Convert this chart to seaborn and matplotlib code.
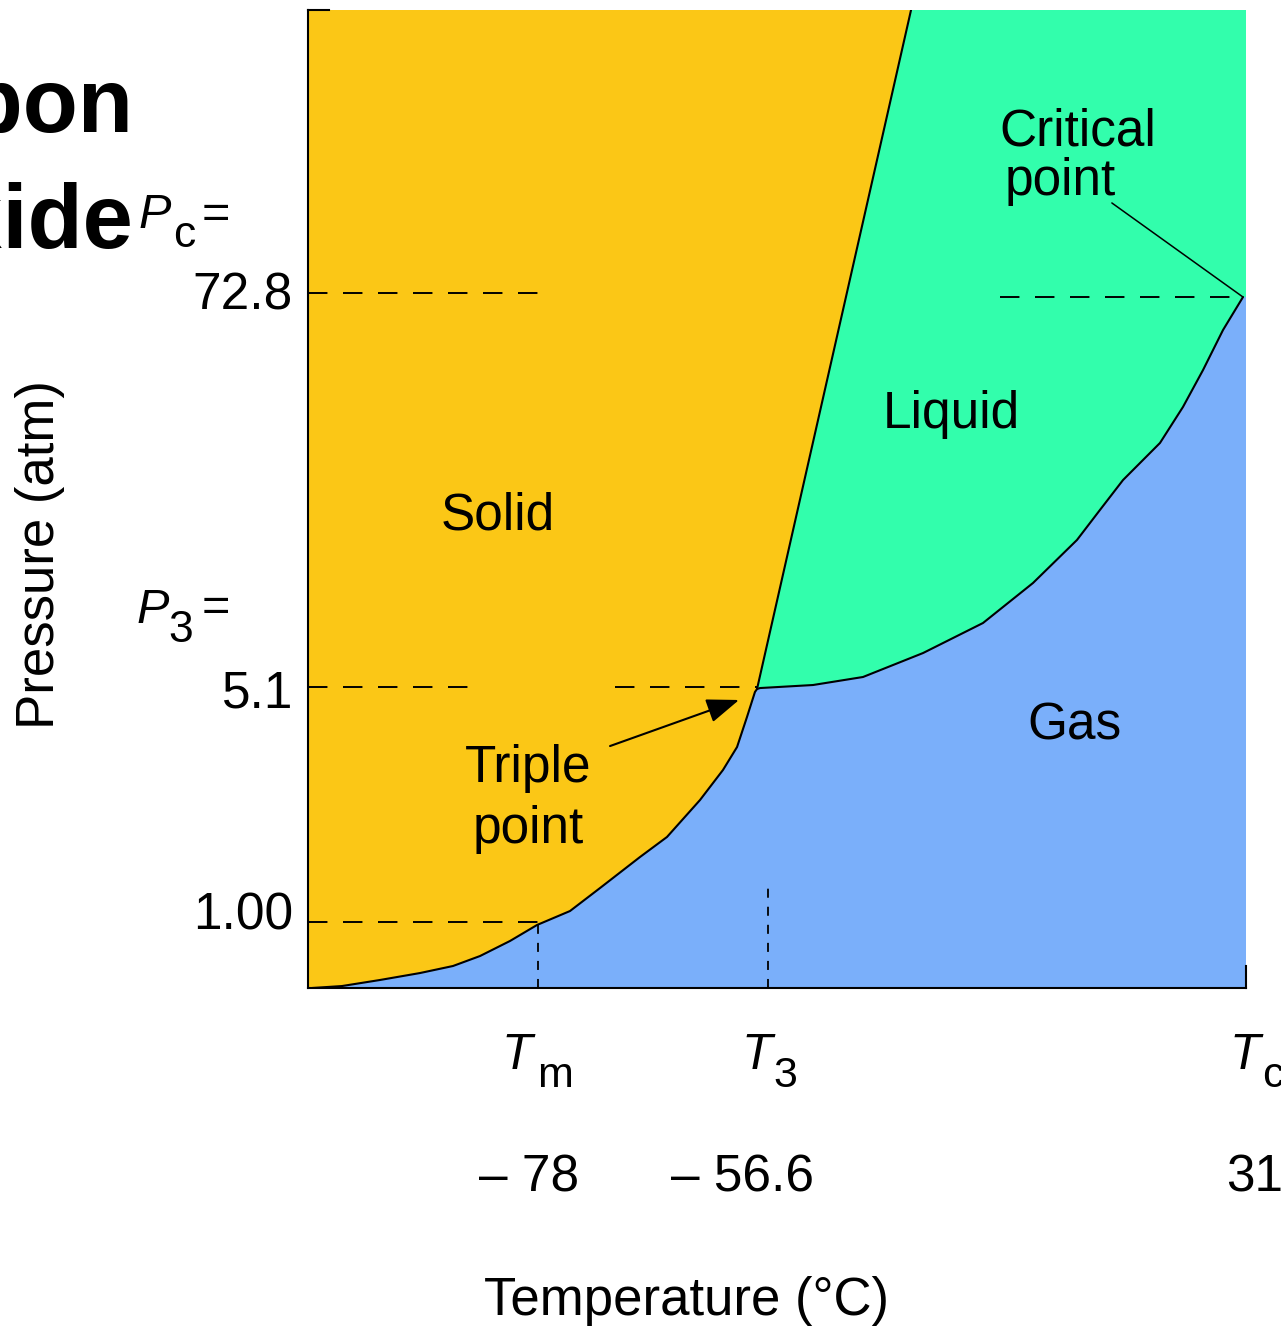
import matplotlib
matplotlib.use("Agg")
import matplotlib.pyplot as plt
import seaborn as sns
import pandas as pd

# ---------------- data (schematic axis units: 0..100 on both axes) ----------------
# sublimation curve (solid / gas)
subl_x = [0.43, 3.62, 7.68, 11.94, 15.46, 18.34, 21.54, 24.41, 27.93, 31.13, 35.39,
          38.27, 41.79, 44.24, 45.74, 46.80, 47.65, 47.87]
subl_y = [0.00, 0.20, 0.82, 1.53, 2.25, 3.27, 4.81, 6.44, 7.87, 10.22, 13.39,
          15.44, 19.22, 22.29, 24.64, 27.71, 30.27, 30.57]
# melting curve (solid / liquid)
melt_x = [47.87, 64.29]
melt_y = [30.57, 100.0]
# vaporization curve (liquid / gas)
vap_x = [47.87, 48.19, 53.84, 59.17, 65.57, 71.96, 77.29, 81.98, 84.43, 86.89,
         90.83, 93.28, 95.42, 97.55, 99.68]
vap_y = [30.57, 30.67, 30.98, 31.80, 34.25, 37.32, 41.41, 45.81, 48.88, 51.94,
         55.73, 59.41, 63.19, 67.28, 70.65]

triple_pt = (47.87, 30.57)
critical_pt = (99.68, 70.65)

# reference (dashed) levels
p_levels = [6.75, 30.78, 71.06]          # 1.00, 5.1, 72.8 atm
p_labels = ["1.00", "5.1", "72.8"]
t_levels = [24.52, 49.04]               # Tm, T3
t_values = ["\u2013 78", "\u2013 56.6", "31"]

YELLOW = "#FBC716"
GREEN = "#32FEAC"
BLUE = "#7AAFFA"

# ---------------- figure ----------------
sns.set_theme(style="white")
plt.rcParams["font.family"] = ["Liberation Sans", "DejaVu Sans"]

W, H = 1281, 1333
fig = plt.figure(figsize=(W / 100, H / 100), dpi=100)
fig.patch.set_facecolor("white")
ax = fig.add_axes([308 / W, (H - 988) / H, 938 / W, 978 / H])
ax.set_xlim(0, 100)
ax.set_ylim(0, 100)
ax.set_facecolor(BLUE)

# regions
solid_poly_x = [0] + subl_x + [melt_x[1], 0]
solid_poly_y = [0] + subl_y + [melt_y[1], 100]
ax.fill(solid_poly_x, solid_poly_y, color=YELLOW, lw=0, zorder=1)
liq_poly_x = [melt_x[0], melt_x[1], 100, 100] + vap_x[::-1]
liq_poly_y = [melt_y[0], melt_y[1], 100, critical_pt[1]] + vap_y[::-1]
ax.fill(liq_poly_x, liq_poly_y, color=GREEN, lw=0, zorder=1)

# boundary curves
for xs, ys in [(subl_x, subl_y), (melt_x, melt_y), (vap_x, vap_y)]:
    df = pd.DataFrame({"x": xs, "y": ys})
    sns.lineplot(data=df, x="x", y="y", sort=False, estimator=None,
                 color="black", lw=1.5, ax=ax, zorder=3)
ax.set_xlabel("")
ax.set_ylabel("")

# dashed guide lines
dash = dict(color="black", lw=1.4, dashes=(10, 8), zorder=2)
ax.plot([0, 25.8], [p_levels[2]] * 2, **dash)
ax.plot([73.77, critical_pt[0]], [critical_pt[1]] * 2, **dash)
ax.plot([0, 17.8], [p_levels[1]] * 2, **dash)
ax.plot([32.7, triple_pt[0]], [p_levels[1]] * 2, **dash)
ax.plot([0, t_levels[0]], [p_levels[0]] * 2, **dash)
dot = dict(color="black", lw=1.3, dashes=(5, 5), zorder=2)
ax.plot([t_levels[0]] * 2, [0, p_levels[0]], **dot)
ax.plot([t_levels[1]] * 2, [0, 11.04], **dot)

# arrow to triple point and leader to critical point
ax.annotate("", xy=(45.95, 29.45), xytext=(32.2, 24.74),
            arrowprops=dict(arrowstyle="-|>,head_length=0.8,head_width=0.3",
                            mutation_scale=25, lw=1.5, color="black",
                            shrinkA=0, shrinkB=0), zorder=4)
ax.plot([85.7, critical_pt[0]], [80.27, critical_pt[1]], color="black", lw=1.1, zorder=3)

# spines
ax.set_xticks([])
ax.set_yticks([])
for s in ["left", "bottom", "top", "right"]:
    ax.spines[s].set_visible(True)
    ax.spines[s].set_color("black")
    ax.spines[s].set_linewidth(1.5)
ax.spines["top"].set_bounds(0, 2.2)
ax.spines["right"].set_bounds(0, 2.3)
ax.grid(False)

FS = 37


def ft(x, y, s, **kw):
    kw.setdefault("fontsize", FS)
    kw.setdefault("va", "baseline")
    fig.text(x / W, 1 - y / H, s, color="black", **kw)


# title (cropped at left edge, as in the original slide)
ft(133, 132, "Carbon", fontsize=65, fontweight="bold", ha="right")
ft(133, 248, "Dioxide", fontsize=65, fontweight="bold", ha="right")

# region labels
ft(498, 530, "Solid", ha="center")
ft(951, 428, "Liquid", ha="center")
ft(1075, 740, "Gas", ha="center")
ft(999, 146, "Critical", ha="left")
ft(1005, 195, "point", ha="left")
ft(528, 782, "Triple", ha="center")
ft(528, 843, "point", ha="center")

# pressure labels
ft(293, 310, p_labels[2], ha="right")
ft(293, 707, p_labels[1], ha="right")
ft(293, 930, p_labels[0], ha="right")
ft(139, 228, "P", ha="left", style="italic", fontsize=35)
ft(173, 247, "c", ha="left", fontsize=32)
ft(230, 228, "=", ha="right", fontsize=35)
ft(136, 623, "P", ha="left", style="italic", fontsize=35)
ft(168, 642, "3", ha="left", fontsize=32)
ft(230, 621, "=", ha="right", fontsize=35)

# temperature labels
ft(502, 1069, "T", ha="left", style="italic", fontsize=36)
ft(537, 1087, "m", ha="left", fontsize=31)
ft(741, 1069, "T", ha="left", style="italic", fontsize=36)
ft(773, 1087, "3", ha="left", fontsize=31)
ft(1229, 1069, "T", ha="left", style="italic", fontsize=36)
ft(1262, 1087, "c", ha="left", fontsize=31)
ft(479, 1191, t_values[0], ha="left")
ft(671, 1191, t_values[1], ha="left")
ft(1226, 1191, t_values[2], ha="left")

# axis titles
ft(687, 1315, "Temperature (\u00b0C)", ha="center", fontsize=38)
fig.text(40 / W, 1 - 555 / H, "Pressure (atm)", rotation=90, ha="center",
         va="center", fontsize=38, color="black")

fig.savefig("out.png", dpi=100)
